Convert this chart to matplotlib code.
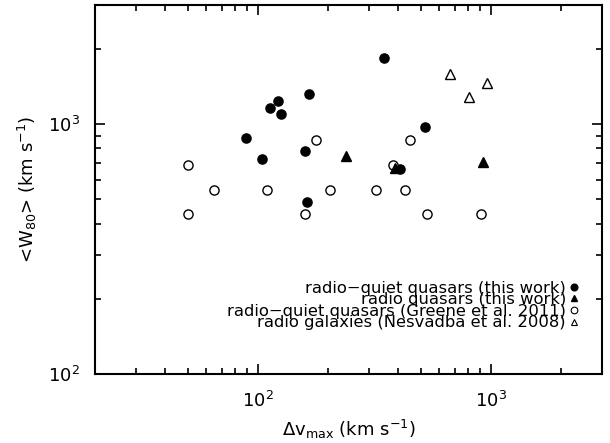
import numpy as np
import matplotlib
matplotlib.use("Agg")
import matplotlib.pyplot as plt
from matplotlib.ticker import LogLocator, FuncFormatter, NullFormatter

plt.rcParams['font.family'] = ['DejaVu Sans']
plt.rcParams['mathtext.fontset'] = 'dejavusans'

# radio-quiet quasars (this work)
rq_dv = [89, 104, 113, 122, 126, 166, 160, 162, 348, 521, 407]
rq_w80 = [877, 723, 1166, 1233, 1100, 1315, 780, 489, 1842, 973, 663]

# radio quasars (this work)
rl_dv = [238, 921, 387]
rl_w80 = [747, 707, 665]

# radio-quiet quasars, Greene et al. 2011
gr_dv = [50, 65, 110, 178, 50, 160, 449, 204, 320, 429, 381, 530, 906]
gr_w80 = [686, 545, 545, 863, 435, 435, 863, 545, 545, 545, 686, 435, 435]

# radio galaxies, Nesvadba et al. 2008
ne_dv = [671, 802, 964]
ne_w80 = [1595, 1286, 1463]

legend_labels = ['radio\u2212quiet quasars (this work)',
                 'radio quasars (this work)',
                 'radio\u2212quiet quasars (Greene et al. 2011)',
                 'radio galaxies (Nesvadba et al. 2008)']

fig = plt.figure(figsize=(6.10, 4.43), dpi=100)
ax = fig.add_axes([0.1557, 0.1558, 0.9869 - 0.1557, 0.9887 - 0.1558])

ms = 6.6
ax.plot(rq_dv, rq_w80, 'o', ms=ms, color='black', ls='none')
ax.plot(gr_dv, gr_w80, 'o', ms=ms, mfc='white', mec='black', mew=1.0, ls='none')
ax.plot(rl_dv, rl_w80, '^', ms=ms, color='black', ls='none')
ax.plot(ne_dv, ne_w80, '^', ms=ms + 0.6, mfc='none', mec='black', mew=1.0, ls='none')

ax.set_xscale('log')
ax.set_yscale('log')
ax.set_xlim(20, 3000)
ax.set_ylim(100, 3000)

fmt = FuncFormatter(lambda v, p: r'$10^{%d}$' % int(round(np.log10(v))))
for axis in (ax.xaxis, ax.yaxis):
    axis.set_major_locator(LogLocator(base=10, numticks=10))
    axis.set_minor_locator(LogLocator(base=10, subs=np.arange(2, 10), numticks=20))
    axis.set_major_formatter(fmt)
    axis.set_minor_formatter(NullFormatter())

ax.tick_params(which='both', direction='in', top=True, right=True, width=1.2)
ax.tick_params(which='major', length=7, labelsize=13)
ax.tick_params(which='minor', length=4)
ax.tick_params(axis='x', which='major', pad=12)
ax.tick_params(axis='y', which='major', pad=11)
for s in ax.spines.values():
    s.set_linewidth(1.5)

ax.set_xlabel(r'$\Delta$v$_{\rm max}$ (km s$^{-1}$)', fontsize=13, labelpad=5)
ax.set_ylabel(r'<W$_{80}$> (km s$^{-1}$)', fontsize=13, labelpad=6)

# legend: one right-aligned text block, symbols placed after each line
rows_y = [0.2358, 0.206, 0.1734, 0.141]
ax.text(0.929, np.mean(rows_y) - 0.004, '\n'.join(legend_labels), transform=ax.transAxes,
        ha='right', va='center', multialignment='right', fontsize=11.8, linespacing=0.71)
styles = [dict(marker='o', color='black'),
          dict(marker='^', color='black'),
          dict(marker='o', mfc='white', mec='black', mew=0.8),
          dict(marker='^', mfc='white', mec='black', mew=0.8)]
for yy, st in zip(rows_y, styles):
    ax.plot([0.9448], [yy], ls='none', ms=4.8, transform=ax.transAxes, clip_on=False, **st)

fig.savefig('out.png', dpi=100)
